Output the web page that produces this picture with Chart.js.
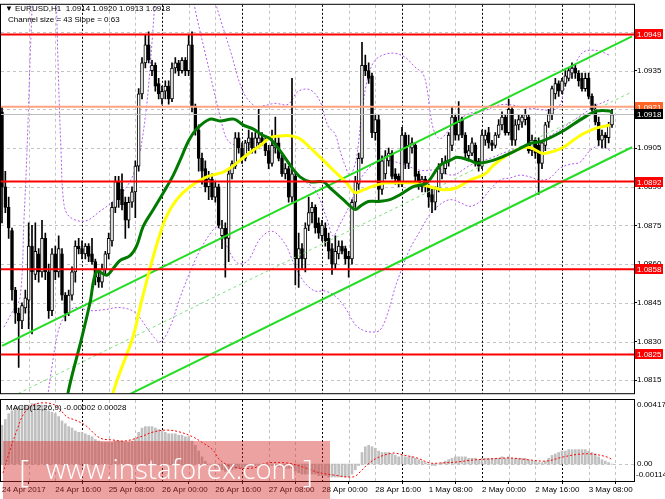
<!DOCTYPE html>
<html>
<head>
<meta charset="utf-8">
<script src="https://cdn.jsdelivr.net/npm/chart.js@4.4.1/dist/chart.umd.min.js"></script>
<style>
html, body { margin: 0; padding: 0; background: #fff; }
#wrap { position: relative; width: 665px; height: 499px; overflow: hidden; }
#main { position: absolute; left: 0; top: 0; }
#macd { position: absolute; left: 0; top: 399px; }
</style>
</head>
<body>
<div id="wrap">
  <canvas id="main" width="665" height="398"></canvas>
  <canvas id="macd" width="665" height="100"></canvas>
</div>
<script>
// EURUSD H1, 24 Apr - 3 May 2017, one candle per hour (bar index 0 = 24 Apr 00:00)

const barOpen = [
  1.0919,1.0890,1.0882,1.0873,1.0850,1.0841,1.0838,1.0843,1.0846,1.0867,
  1.0856,1.0864,1.0857,1.0870,1.0857,1.0842,1.0864,1.0857,1.0864,1.0848,
  1.0841,1.0848,1.0857,1.0867,1.0866,1.0864,1.0867,1.0864,1.0861,1.0855,
  1.0853,1.0858,1.0864,1.0869,1.0882,1.0892,1.0889,1.0884,1.0877,1.0884,
  1.0888,1.0898,1.0926,1.0938,1.0945,1.0935,1.0937,1.0930,1.0924,1.0927,
  1.0929,1.0924,1.0936,1.0938,1.0935,1.0939,1.0935,1.0945,1.0921,1.0912,
  1.0901,1.0897,1.0890,1.0893,1.0886,1.0890,1.0871,1.0874,1.0870,1.0895,
  1.0898,1.0909,1.0905,1.0901,1.0907,1.0909,1.0905,1.0907,1.0909,1.0907,
  1.0904,1.0899,1.0905,1.0907,1.0901,1.0895,1.0897,1.0886,1.0894,1.0862,
  1.0866,1.0862,1.0875,1.0880,1.0882,1.0876,1.0871,1.0874,1.0870,1.0866,
  1.0860,1.0864,1.0867,1.0866,1.0863,1.0862,1.0884,1.0891,1.0901,1.0937,
  1.0935,1.0933,1.0911,1.0916,1.0889,1.0895,1.0900,1.0903,1.0895,1.0894,
  1.0891,1.0910,1.0899,1.0905,1.0906,1.0895,1.0890,1.0893,1.0890,1.0887,
  1.0884,1.0889,1.0895,1.0897,1.0900,1.0906,1.0917,1.0910,1.0916,1.0910,
  1.0902,1.0903,1.0906,1.0900,1.0898,1.0908,1.0911,1.0907,1.0906,1.0910,
  1.0914,1.0917,1.0911,1.0920,1.0908,1.0914,1.0915,1.0916,1.0917,1.0904,
  1.0908,1.0906,1.0899,1.0906,1.0915,1.0918,1.0926,1.0930,1.0927,1.0930,
  1.0932,1.0934,1.0936,1.0934,1.0932,1.0928,1.0932,1.0925,1.0920,1.0915,
  1.0908,1.0910,1.0909,1.0914
];
const barHigh = [
  1.0921,1.0896,1.0886,1.0874,1.0851,1.0843,1.0845,1.0850,1.0876,1.0875,
  1.0876,1.0866,1.0877,1.0872,1.0860,1.0866,1.0867,1.0871,1.0866,1.0849,
  1.0850,1.0859,1.0869,1.0870,1.0869,1.0868,1.0868,1.0870,1.0862,1.0858,
  1.0860,1.0865,1.0872,1.0884,1.0894,1.0894,1.0895,1.0886,1.0886,1.0890,
  1.0900,1.0928,1.0940,1.0949,1.0950,1.0939,1.0938,1.0932,1.0929,1.0931,
  1.0931,1.0938,1.0940,1.0939,1.0940,1.0940,1.0949,1.0950,1.0922,1.0914,
  1.0903,1.0900,1.0896,1.0895,1.0892,1.0891,1.0877,1.0876,1.0897,1.0900,
  1.0911,1.0911,1.0907,1.0908,1.0912,1.0911,1.0911,1.0920,1.0911,1.0909,
  1.0906,1.0912,1.0917,1.0909,1.0903,1.0899,1.0898,1.0932,1.0896,1.0872,
  1.0868,1.0876,1.0886,1.0884,1.0883,1.0878,1.0877,1.0876,1.0872,1.0868,
  1.0871,1.0869,1.0869,1.0867,1.0865,1.0885,1.0894,1.0903,1.0946,1.0941,
  1.0938,1.0934,1.0918,1.0918,1.0902,1.0904,1.0905,1.0904,1.0897,1.0895,
  1.0913,1.0911,1.0910,1.0909,1.0907,1.0896,1.0894,1.0894,1.0891,1.0889,
  1.0890,1.0899,1.0901,1.0902,1.0911,1.0921,1.0918,1.0923,1.0917,1.0911,
  1.0906,1.0909,1.0907,1.0901,1.0912,1.0912,1.0913,1.0908,1.0911,1.0916,
  1.0919,1.0918,1.0924,1.0921,1.0916,1.0918,1.0918,1.0920,1.0918,1.0910,
  1.0909,1.0909,1.0908,1.0915,1.0920,1.0929,1.0932,1.0931,1.0932,1.0935,
  1.0936,1.0938,1.0937,1.0935,1.0934,1.0934,1.0934,1.0926,1.0922,1.0917,
  1.0912,1.0911,1.0915,1.0920
];
const barLow = [
  1.0876,1.0880,1.0870,1.0846,1.0837,1.0820,1.0835,1.0841,1.0835,1.0833,
  1.0854,1.0853,1.0855,1.0854,1.0839,1.0840,1.0854,1.0855,1.0846,1.0838,
  1.0840,1.0846,1.0853,1.0864,1.0862,1.0862,1.0861,1.0860,1.0852,1.0851,
  1.0851,1.0856,1.0862,1.0867,1.0880,1.0882,1.0881,1.0870,1.0874,1.0882,
  1.0878,1.0896,1.0924,1.0936,1.0938,1.0933,1.0927,1.0924,1.0922,1.0924,
  1.0922,1.0923,1.0934,1.0933,1.0934,1.0933,1.0933,1.0919,1.0910,1.0896,
  1.0891,1.0888,1.0885,1.0885,1.0884,1.0874,1.0866,1.0855,1.0861,1.0893,
  1.0897,1.0903,1.0899,1.0900,1.0904,1.0903,1.0903,1.0905,1.0906,1.0902,
  1.0897,1.0898,1.0903,1.0900,1.0894,1.0893,1.0884,1.0884,1.0852,1.0851,
  1.0858,1.0857,1.0873,1.0876,1.0872,1.0870,1.0869,1.0867,1.0862,1.0856,
  1.0858,1.0862,1.0864,1.0860,1.0855,1.0860,1.0882,1.0889,1.0899,1.0933,
  1.0930,1.0909,1.0908,1.0885,1.0887,1.0893,1.0898,1.0893,1.0891,1.0890,
  1.0890,1.0897,1.0897,1.0903,1.0892,1.0889,1.0888,1.0888,1.0882,1.0880,
  1.0881,1.0888,1.0893,1.0895,1.0898,1.0904,1.0908,1.0908,1.0909,1.0901,
  1.0900,1.0902,1.0898,1.0896,1.0897,1.0906,1.0905,1.0904,1.0905,1.0909,
  1.0912,1.0910,1.0910,1.0906,1.0906,1.0912,1.0913,1.0914,1.0903,1.0902,
  1.0901,1.0887,1.0897,1.0904,1.0913,1.0916,1.0924,1.0925,1.0926,1.0929,
  1.0931,1.0932,1.0932,1.0929,1.0927,1.0927,1.0924,1.0919,1.0914,1.0906,
  1.0905,1.0905,1.0907,1.0913
];
const barClose = [
  1.0890,1.0882,1.0874,1.0850,1.0841,1.0838,1.0844,1.0847,1.0867,1.0857,
  1.0865,1.0857,1.0870,1.0857,1.0842,1.0864,1.0857,1.0866,1.0848,1.0841,
  1.0848,1.0857,1.0867,1.0866,1.0864,1.0867,1.0863,1.0861,1.0855,1.0853,
  1.0858,1.0864,1.0870,1.0882,1.0892,1.0885,1.0883,1.0877,1.0884,1.0888,
  1.0898,1.0926,1.0938,1.0945,1.0939,1.0937,1.0929,1.0926,1.0927,1.0929,
  1.0924,1.0936,1.0938,1.0935,1.0939,1.0935,1.0945,1.0921,1.0912,1.0901,
  1.0896,1.0890,1.0893,1.0886,1.0890,1.0875,1.0874,1.0870,1.0895,1.0899,
  1.0909,1.0905,1.0901,1.0907,1.0909,1.0905,1.0909,1.0909,1.0907,1.0904,
  1.0899,1.0906,1.0907,1.0901,1.0895,1.0897,1.0886,1.0895,1.0862,1.0866,
  1.0862,1.0874,1.0880,1.0882,1.0874,1.0872,1.0875,1.0869,1.0865,1.0860,
  1.0865,1.0867,1.0865,1.0862,1.0862,1.0884,1.0892,1.0901,1.0937,1.0935,
  1.0932,1.0911,1.0916,1.0889,1.0900,1.0902,1.0903,1.0894,1.0893,1.0891,
  1.0910,1.0899,1.0906,1.0907,1.0894,1.0891,1.0893,1.0890,1.0886,1.0884,
  1.0889,1.0897,1.0899,1.0900,1.0910,1.0917,1.0910,1.0915,1.0910,1.0903,
  1.0904,1.0907,1.0899,1.0898,1.0910,1.0910,1.0907,1.0906,1.0910,1.0914,
  1.0917,1.0911,1.0920,1.0908,1.0914,1.0916,1.0917,1.0918,1.0904,1.0908,
  1.0903,1.0899,1.0907,1.0914,1.0918,1.0928,1.0930,1.0927,1.0931,1.0933,
  1.0935,1.0936,1.0934,1.0931,1.0928,1.0932,1.0925,1.0920,1.0915,1.0908,
  1.0910,1.0909,1.0914,1.0918
];

// moving averages (bar, price)
const maGreenX = [19.2,19.8,24.0,26.4,28.4,31.4,33.4,35.4,38.4,40.4,42.4,
  45.4,48.4,51.4,53.4,56.0,58.4,62.4,65.4,69.6,72.4,75.3,78.0,80.4,
  83.4,87.1,89.4,92.4,96.4,98.4,102.4,105.9,107.4,109.9,112.9,116.4,119.4,123.4,127.4,
  131.4,134.4,136.5,140.4,142.5,147.3,152.4,158.4,162.3,168.3,174.3,178.5,182.4,183.0];
const maGreenY = [1.08013,1.08101,1.08318,1.08450,1.08572,1.08557,1.08584,1.08614,1.08633,1.08671,1.08747,
  1.08812,1.08877,1.08945,1.09002,1.09078,1.09124,1.09162,1.09155,1.09162,1.09139,1.09124,1.09101,1.09086,
  1.09040,1.08972,1.08938,1.08919,1.08919,1.08896,1.08850,1.08812,1.08824,1.08843,1.08843,1.08850,1.08869,1.08900,1.08915,
  1.08983,1.09002,1.09014,1.09002,1.08991,1.09002,1.09029,1.09067,1.09078,1.09116,1.09166,1.09193,1.09193,1.09185];
const maYellowX = [32.6,33.3,39.3,41.4,44.4,47.4,49.4,52.4,56.4,61.4,
  66.4,68.4,71.4,74.4,77.4,80.4,83.4,86.9,89.4,92.4,96.4,99.4,
  103.4,105.9,108.4,112.4,115.4,119.4,123.4,128.4,132.4,136.4,140.4,
  144.9,147.4,151.4,155.4,158.4,162.3,166.0,168.3,172.0,174.3,178.5,182.4];
const maYellowY = [1.08013,1.08101,1.08318,1.08432,1.08584,1.08717,1.08786,1.08850,1.08900,1.08938,
  1.08957,1.08972,1.09002,1.09033,1.09059,1.09090,1.09097,1.09097,1.09086,1.09052,1.09002,1.08964,
  1.08915,1.08877,1.08888,1.08907,1.08915,1.08915,1.08915,1.08900,1.08888,1.08896,1.08926,
  1.08949,1.08983,1.09021,1.09048,1.09052,1.09029,1.09040,1.09052,1.09086,1.09105,1.09128,1.09139];

// bands (dotted violet), null = leaves the visible area
const bbUpperX = [0.6,3.0,5.4,6.6,7.5,8.4,9.3,12,
  16.2,16.8,17.7,18.6,20.4,24.9,29.4,33.9,37.8,40.8,43.2,45.0,46.2,50,
  62.4,65.4,68.4,72.3,75.9,78.9,81.9,85.8,88.8,92.4,
  95.4,97.8,99.9,101.4,102.9,104.4,106.2,108.0,109.8,111.9,
  114.9,117.9,120.9,123.9,126.3,127.5,128.4,129.6,131.4,134.4,
  137.4,140.4,144.3,150.3,158.4,166.5,168.9,171.3,174.3,178.5,182.4];
const bbUpperY = [1.08356,1.08413,1.08470,1.08774,1.09040,1.09383,1.09687,null,
  1.09687,1.09383,1.09040,1.08831,1.08782,1.08767,1.08805,1.08850,1.08907,1.09002,1.09193,1.09459,1.09687,null,
  1.09687,1.09554,1.09432,1.09269,1.09212,1.09215,1.09223,1.09219,1.09269,1.09276,
  1.09231,1.09135,1.09105,1.09040,1.08983,1.08945,1.09002,1.09193,1.09326,1.09390,
  1.09413,1.09417,1.09402,1.09364,1.09337,1.09280,1.09193,1.09116,1.09086,1.09124,
  1.09162,1.09185,1.09193,1.09219,1.09204,1.09204,1.09288,1.09356,1.09421,1.09428,1.09409];
const bbMidX = [56.4,58.5,60.9,63.3,65.4,67.8,71.4,75.9,80.4,84.9,89.4,93.9,97.5,99.3,101.4,104.4,
  107.4,111.0,114.9,119.4,125.4,130.5,135.3,140.4,146.4,152.4,158.4,164.4,168.9,173.4,177.9,182.4];
const bbMidY = [1.09687,1.09554,1.09421,1.09288,1.09174,1.09078,1.09059,1.09067,1.09048,1.09002,1.08934,1.08888,1.08774,1.08709,1.08755,1.08831,
  1.08926,1.08983,1.09002,1.08991,1.08964,1.08964,1.08945,1.08983,1.09010,1.09040,1.09059,1.09097,1.09135,1.09174,1.09212,1.09238];
const bbLowerX = [12.9,15.0,16.8,18.9,21.9,26.4,30.9,35.4,39.9,44.4,47.4,50.4,53.4,
  57.9,61.8,64.8,67.8,70.8,73.8,77.4,81.0,84.9,87.9,
  90.9,93.9,96.9,99.9,102.9,105.9,108.3,111.0,113.4,115.8,117.9,
  120.0,122.4,125.4,128.4,131.4,134.4,137.4,140.4,143.4,146.4,
  149.4,152.4,155.4,158.4,161.4,164.4,167.4,170.4,173.4,176.4,179.4,182.4];
const bbLowerY = [1.08013,1.08204,1.08337,1.08401,1.08432,1.08420,1.08424,1.08432,1.08413,1.08337,1.08299,1.08356,1.08470,
  1.08614,1.08706,1.08744,1.08660,1.08603,1.08614,1.08698,1.08728,1.08679,1.08592,
  1.08527,1.08496,1.08496,1.08477,1.08432,1.08367,1.08344,1.08337,1.08344,1.08413,1.08508,
  1.08584,1.08660,1.08728,1.08793,1.08831,1.08850,1.08839,1.08824,1.08843,1.08888,
  1.08926,1.08934,1.08945,1.08938,1.08926,1.08934,1.08972,1.08987,1.08995,1.09040,1.09059,1.09040];

// regression channel (43 pips wide)
const channelX = [0, 189];
const channelUpper = [1.08283, 1.09483];
const channelMid = [1.08068, 1.09268];
const channelLower = [1.07853, 1.09053];

// horizontal levels
const redLevels = [1.0949, 1.0892, 1.0858, 1.0825];
const orangeLevel = 1.0921;
const lastPrice = 1.0918;

// MACD(12,26,9)
const macdHist = [
  0.0027,0.0031,0.0035,0.0037,0.0039,0.0040,0.0040,0.0041,0.0041,0.0042,
  0.0042,0.0041,0.0041,0.0040,0.0037,0.0036,0.0035,0.0033,0.0030,0.0028,
  0.0026,0.0025,0.0023,0.0022,0.0022,0.0021,0.0020,0.0019,0.0017,0.0016,
  0.0015,0.0015,0.0015,0.0015,0.0016,0.0016,0.0016,0.0015,0.0015,0.0016,
  0.0018,0.0022,0.0025,0.0026,0.0026,0.0026,0.0025,0.0024,0.0023,0.0022,
  0.0021,0.0021,0.0021,0.0020,0.0020,0.0019,0.0019,0.0016,0.0013,0.0009,
  0.0005,0.0002,0.0000,-0.0001,-0.0002,-0.0003,-0.0004,-0.0005,-0.0004,-0.0004,
  -0.0003,-0.0003,-0.0003,-0.0002,-0.0002,-0.0002,-0.0001,-0.0001,-0.0001,-0.0001,
  -0.0001,-0.0001,-0.0001,-0.0002,-0.0002,-0.0003,-0.0003,-0.0003,-0.0005,-0.0006,
  -0.0007,-0.0007,-0.0007,-0.0007,-0.0007,-0.0008,-0.0008,-0.0008,-0.0009,-0.0009,
  -0.0009,-0.0009,-0.0009,-0.0009,-0.0009,-0.0007,-0.0004,-0.0001,0.0008,0.0012,
  0.0013,0.0012,0.0011,0.0009,0.0008,0.0008,0.0008,0.0007,0.0006,0.0005,
  0.0006,0.0005,0.0005,0.0005,0.0004,0.0003,0.0002,0.0001,0.0000,-0.0001,
  -0.0001,0.0000,0.0001,0.0002,0.0003,0.0004,0.0005,0.0005,0.0005,0.0005,
  0.0004,0.0004,0.0004,0.0003,0.0004,0.0004,0.0004,0.0004,0.0004,0.0004,
  0.0005,0.0004,0.0005,0.0004,0.0004,0.0004,0.0004,0.0004,0.0003,0.0002,
  0.0002,0.0001,0.0001,0.0002,0.0004,0.0006,0.0007,0.0008,0.0009,0.0009,
  0.0010,0.0010,0.0010,0.0010,0.0010,0.0010,0.0009,0.0008,0.0007,0.0005,
  0.0003,0.0002,0.0001,-0.00002
];
const macdSignalX = [0.3,2.4,4.5,6.3,8.4,11.4,15.9,19.5,21.9,24.9,
  29.4,33.3,36.9,41.4,45.3,49.5,53.4,57.3,60.3,63.3,
  65.4,69.3,75.3,79.5,85.5,90.3,94.5,99.3,105.3,107.4,109.5,
  112.5,117.3,120.3,124.5,128.4,131.4,136.5,141.3,146.4,152.4,158.4,163.5,168.3,173.4,177.3,181.5,183.3];
const macdSignalY = [-0.00063,0.00097,0.00236,0.00341,0.00396,0.00424,0.00410,0.00327,0.00306,0.00271,
  0.00181,0.00167,0.00160,0.00188,0.00222,0.00236,0.00222,0.00188,0.00146,0.00097,
  0.00028,-0.00021,-0.00028,0.00007,0.00007,-0.00021,-0.00056,-0.00076,-0.00090,-0.00056,-0.00007,
  0.00042,0.00076,0.00063,0.00042,0.00007,0.00007,0.00014,0.00028,0.00035,0.00042,0.00028,0.00021,0.00049,0.00069,0.00069,0.00049,0.00028];

// axes
const priceTicks = [1.0815,1.0830,1.0845,1.0860,1.0875,1.0890,1.0905,1.0920,1.0935,1.0950];
const timeTickBars = [0,16,32,48,64,80,96,112,128,144,160,176];
const timeTickLabels = ['24 Apr 2017','24 Apr 16:00','25 Apr 08:00','26 Apr 00:00','26 Apr 16:00','27 Apr 08:00',
  '28 Apr 00:00','28 Apr 16:00','1 May 08:00','2 May 00:00','2 May 16:00','3 May 08:00'];
const macdTickValues = [0.00417, 0, -0.00114];
const macdTickLabels = ['0.00417', '0.00', '-0.00114'];

const xMin = -0.3, xMax = 189.6;
const FONT = '"Liberation Sans", Arial, sans-serif';
Chart.defaults.font.family = FONT;
Chart.defaults.font.size = 8;
Chart.defaults.color = '#000';

const pts = (xs, ys) => xs.slice(0, Math.min(xs.length, ys.length)).map((x, i) => ({x, y: ys[i]}));
const flat = v => [{x: xMin, y: v}, {x: xMax, y: v}];

function line(ctx, x1, y1, x2, y2) { ctx.beginPath(); ctx.moveTo(x1, y1); ctx.lineTo(x2, y2); ctx.stroke(); }

function drawGrid(chart, hValues) {
  const {ctx, chartArea: a, scales: {x, y}} = chart;
  ctx.save();
  ctx.lineWidth = 1;
  ctx.strokeStyle = '#c4c4c4';
  ctx.setLineDash([3, 3]);
  hValues.forEach(v => {
    const py = Math.round(y.getPixelForValue(v)) + 0.5;
    line(ctx, a.left, py, a.right, py);
  });
  for (let b = 8; b < xMax; b += 8) {
    if (b % 24 === 0) continue;
    const px = Math.round(x.getPixelForValue(b)) + 0.5;
    line(ctx, px, a.top, px, a.bottom);
  }
  ctx.strokeStyle = '#000';
  ctx.setLineDash([2, 2]);
  for (let b = 24; b < xMax; b += 24) {
    const px = Math.round(x.getPixelForValue(b)) + 0.5;
    line(ctx, px, a.top, px, a.bottom);
  }
  ctx.restore();
}

function frame(chart) {
  const {ctx, chartArea: a} = chart;
  ctx.save();
  ctx.strokeStyle = '#000';
  ctx.lineWidth = 1;
  ctx.strokeRect(a.left - 0.5, a.top - 0.5, a.right - a.left + 1, a.bottom - a.top + 1);
  ctx.restore();
}

const mainDecor = {
  id: 'mainDecor',
  beforeDatasetsDraw(chart) { drawGrid(chart, priceTicks); },
  afterDraw(chart) {
    const {ctx, chartArea: a, scales: {y}} = chart;
    frame(chart);
    ctx.save();
    ctx.font = '8px ' + FONT;
    ctx.fillStyle = '#000';
    ctx.textBaseline = 'alphabetic';
    ctx.fillText('\u25BC', 5, 11);
    ctx.fillText('EURUSD,H1  1.0914 1.0920 1.0913 1.0918', 15, 11);
    ctx.fillText('Channel size = 43 Slope = 0.63', 8, 22);
    // price boxes on the axis
    const boxes = redLevels.map(v => ({v, bg: '#ff0000'}))
      .concat([{v: orangeLevel, bg: '#ff6428'}, {v: lastPrice, bg: '#000000'}]);
    ctx.textBaseline = 'middle';
    boxes.forEach(b => {
      const py = Math.round(y.getPixelForValue(b.v));
      ctx.fillStyle = b.bg;
      ctx.fillRect(a.right + 1, py - 5, 28, 10);
      ctx.fillStyle = '#fff';
      ctx.fillText(b.v.toFixed(4), a.right + 3, py + 0.5);
    });
    ctx.restore();
  }
};

const bodyData = barOpen.map((o, i) => ({x: i, y: [o, barClose[i]]}));
const wickData = barOpen.map((o, i) => ({x: i, y: [barLow[i], barHigh[i]]}));

const dotted = (data, color) => ({type: 'line', data, borderColor: color, borderWidth: 1, borderDash: [2, 2],
  pointRadius: 0, tension: 0.35, spanGaps: false, order: 9});

new Chart(document.getElementById('main'), {
  type: 'bar',
  data: {
    datasets: [
      dotted(pts(bbUpperX, bbUpperY), '#b45cf0'),
      dotted(pts(bbMidX, bbMidY), '#b45cf0'),
      dotted(pts(bbLowerX, bbLowerY), '#b45cf0'),
      {type: 'bar', data: wickData, barThickness: 1, grouped: false, backgroundColor: '#000', order: 7},
      {type: 'bar', data: bodyData, barThickness: 3, grouped: false, minBarLength: 1,
        backgroundColor: c => barClose[c.dataIndex] >= barOpen[c.dataIndex] ? '#ffffff' : '#000000',
        borderColor: '#000', borderWidth: 1, borderSkipped: false, order: 6},
      {type: 'line', data: pts(channelX, channelUpper), borderColor: '#22dd22', borderWidth: 2, pointRadius: 0, order: 5},
      {type: 'line', data: pts(channelX, channelLower), borderColor: '#22dd22', borderWidth: 2, pointRadius: 0, order: 5},
      {type: 'line', data: pts(channelX, channelMid), borderColor: '#7de27d', borderWidth: 1, borderDash: [3, 3], pointRadius: 0, order: 5},
      {type: 'line', data: pts(maYellowX, maYellowY), borderColor: '#ffff00', borderWidth: 3, pointRadius: 0, tension: 0.35, order: 4},
      {type: 'line', data: pts(maGreenX, maGreenY), borderColor: '#007a00', borderWidth: 3, pointRadius: 0, tension: 0.35, order: 3},
      ...redLevels.map(v => ({type: 'line', data: flat(v), borderColor: '#ff0000', borderWidth: 2, pointRadius: 0, order: 2})),
      {type: 'line', data: flat(orangeLevel), borderColor: '#ffa383', borderWidth: 2, pointRadius: 0, order: 2},
      {type: 'line', data: flat(lastPrice), borderColor: '#bdbdbd', borderWidth: 1, pointRadius: 0, order: 2}
    ]
  },
  options: {
    responsive: false, animation: false, events: [],
    layout: {padding: {left: 1, top: 2, right: 0, bottom: 1}},
    plugins: {legend: {display: false}, tooltip: {enabled: false}},
    scales: {
      x: {type: 'linear', min: xMin, max: xMax, offset: false, display: false},
      y: {
        position: 'right', min: 1.0810, max: 1.09605,
        afterBuildTicks: s => { s.ticks = priceTicks.map(v => ({value: v})); },
        afterFit: s => { s.width = 31; },
        grid: {drawOnChartArea: false, drawTicks: true, tickLength: 3, color: '#000'},
        border: {display: false},
        ticks: {padding: 0, color: '#000', font: {size: 8}, callback: v => v.toFixed(4)}
      }
    }
  },
  plugins: [mainDecor]
});

const macdDecor = {
  id: 'macdDecor',
  beforeDatasetsDraw(chart) { drawGrid(chart, [0]); },
  afterDraw(chart) {
    const {ctx, chartArea: a, scales: {y}} = chart;
    frame(chart);
    ctx.save();
    ctx.font = '8px ' + FONT;
    ctx.fillStyle = '#000';
    ctx.textBaseline = 'alphabetic';
    ctx.fillText('MACD(12,26,9) -0.00002 0.00028', 6, 11);
    ctx.textBaseline = 'middle';
    macdTickValues.forEach((v, i) => {
      const py = Math.min(Math.max(y.getPixelForValue(v), a.top + 5), a.bottom - 6);
      ctx.fillText(macdTickLabels[i], a.right + (v < 0 ? 2 : 3), py);
    });
    // watermark
    ctx.fillStyle = 'rgba(214, 44, 44, 0.44)';
    ctx.fillRect(3, 42, 327, 58);
    ctx.fillStyle = '#ffffff';
    ctx.textBaseline = 'alphabetic';
    ctx.font = '300 26px "Open Sans", sans-serif';
    const w = ctx.measureText('www.instaforex.com').width;
    const size = 26 * 250 / w;
    ctx.font = '300 ' + size.toFixed(1) + 'px "Open Sans", sans-serif';
    ctx.fillText('www.instaforex.com', 46, 80);
    ctx.font = '300 ' + (size * 1.15).toFixed(1) + 'px "Open Sans", sans-serif';
    ctx.fillText('[', 19, 83);
    ctx.fillText(']', 303, 83);
    ctx.restore();
  }
};

new Chart(document.getElementById('macd'), {
  type: 'bar',
  data: {
    datasets: [
      {type: 'line', data: pts(macdSignalX, macdSignalY), borderColor: '#ff0000', borderWidth: 1, borderDash: [2, 2],
        pointRadius: 0, tension: 0.35, order: 1},
      {type: 'bar', data: macdHist.map((v, i) => ({x: i, y: v})), backgroundColor: '#c0c0c0',
        barThickness: 2, grouped: false, order: 2}
    ]
  },
  options: {
    responsive: false, animation: false, events: [],
    layout: {padding: {left: 1, top: 1, right: 0, bottom: 0}},
    plugins: {legend: {display: false}, tooltip: {enabled: false}},
    scales: {
      x: {
        type: 'linear', min: xMin, max: xMax, offset: false,
        afterBuildTicks: s => { s.ticks = timeTickBars.map(v => ({value: v})); },
        afterFit: s => { s.height = 18; },
        grid: {drawOnChartArea: false, drawTicks: true, tickLength: 3, color: '#000'},
        border: {display: false},
        ticks: {autoSkip: false, maxRotation: 0, minRotation: 0, align: 'start', padding: 1, color: '#000',
          font: {size: 8}, callback: (v, i) => timeTickLabels[i]}
      },
      y: {
        position: 'right', min: -0.00118, max: 0.00445,
        afterFit: s => { s.width = 31; },
        grid: {display: false}, border: {display: false}, ticks: {display: false}
      }
    }
  },
  plugins: [macdDecor]
});
</script>
</body>
</html>
